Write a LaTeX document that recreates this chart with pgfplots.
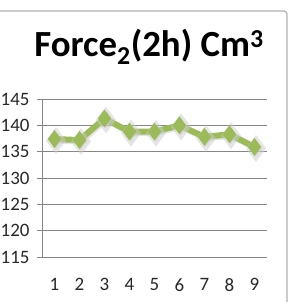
\documentclass[border=0pt]{standalone}
\usepackage{pgfplots}
\pgfplotsset{compat=1.18}
\usepackage{fontspec}
\setmainfont{Carlito}
\definecolor{exgreen}{RGB}{155,187,89}
\definecolor{gridgray}{RGB}{134,134,134}
\definecolor{txt}{RGB}{40,40,40}
\begin{document}
\begin{tikzpicture}[x=1bp,y=1bp]
\path[use as bounding box, fill=white] (0,0) rectangle (297,302);
\draw[gray!60, line width=1.2bp] (0,291) -- (284,291) arc (90:0:3) -- (287,0);
\node[font=\bfseries\fontsize{37}{42}\selectfont, text=black] at (149,255) {Force\textsubscript{2}(2h) Cm\textsuperscript{3}};
\begin{axis}[
  at={(42bp,45bp)}, anchor=origin,
  scale only axis, width=225bp, height=158bp,
  xmin=0.5, xmax=9.5, ymin=115, ymax=145,
  axis x line*=bottom, axis y line*=left,
  ytick={115,120,...,145},
  xtick={1,...,9},
  extra x ticks={0.5,1.5,...,9.5},
  extra x tick labels={},
  extra x tick style={major tick length=5bp, tick style={gridgray, line width=0.8bp}, tick align=outside, grid=none},
  major x tick style={draw=none},
  major y tick style={gridgray, line width=0.8bp},
  tick align=outside, major tick length=5bp,
  ymajorgrids, grid style={gridgray, line width=0.8bp},
  axis line style={gridgray, line width=0.8bp},
  tick label style={font=\fontsize{19}{22}\selectfont, text=txt},
  /pgf/number format/assume math mode=true,
  xticklabel style={yshift=-13bp},
  yticklabel style={xshift=-4bp},
  clip=false,
]
\addplot[gray!40, line width=6bp, opacity=0.5, mark=diamond*, mark size=8.5bp, shift={(1.5bp,-1.5bp)}] coordinates {
(1,137.4) (2,137.2) (3,141.3) (4,138.8) (5,138.8) (6,140.0) (7,137.8) (8,138.3) (9,135.9)};
\addplot[exgreen, line width=6bp, mark=diamond*, mark size=8.5bp, mark options={fill=exgreen, draw=exgreen, line width=0.5bp}] coordinates {
(1,137.4) (2,137.2) (3,141.3) (4,138.8) (5,138.8) (6,140.0) (7,137.8) (8,138.3) (9,135.9)};
\end{axis}
\end{tikzpicture}
\end{document}
